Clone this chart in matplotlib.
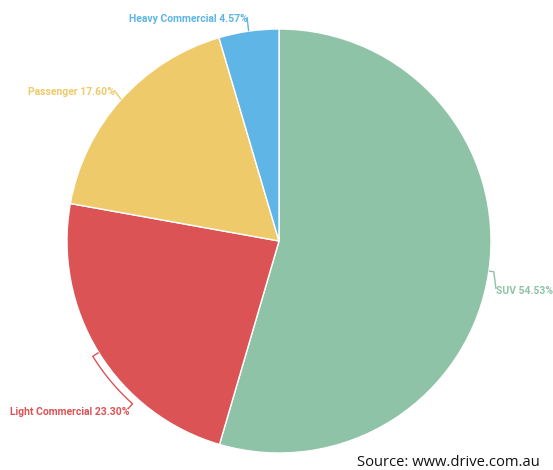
import numpy as np
import matplotlib.pyplot as plt

categories = ["SUV", "Light Commercial", "Passenger", "Heavy Commercial"]
shares = [54.53, 23.30, 17.60, 4.57]
colors = ["#8fc3a7", "#dc5356", "#efca6a", "#5fb5e5"]

fig = plt.figure(figsize=(5.53, 4.70), dpi=100)
ax = fig.add_axes([0, 0, 1, 1])

cx, cy, R = 279, 229, 212
wedges, _ = ax.pie(shares, colors=colors, startangle=90, counterclock=False,
                   center=(cx, cy), radius=R, frame=True,
                   wedgeprops=dict(edgecolor="white", linewidth=1))
ax.set_xlim(0, 553)
ax.set_ylim(0, 470)
ax.axis("off")

# label text anchor (x, y, ha) in pixel-like coords
label_pos = {
    "SUV": (496, 179, "left"),
    "Light Commercial": (129, 58, "right"),
    "Passenger": (115, 378, "right"),
    "Heavy Commercial": (248, 451, "right"),
}

def pt(ang, r):
    a = np.deg2rad(ang)
    return cx + r * np.cos(a), cy + r * np.sin(a)

for w, cat, val, col in zip(wedges, categories, shares, colors):
    mid = ((w.theta1 + w.theta2) / 2) % 360
    tx, ty, ha = label_pos[cat]
    x0, y0 = pt(mid, R)
    if cat == "Light Commercial":
        angs = np.linspace(mid, 228, 30)
        xs = [x0] + [pt(a, 219)[0] for a in angs] + [tx - 1]
        ys = [y0] + [pt(a, 219)[1] for a in angs] + [ty + 3]
    elif cat == "SUV":
        x1, y1 = pt(mid, R + 5)
        xs = [x0, x1, tx]
        ys = [y0, y1, ty + 2]
    else:
        xs = [x0, tx - 1]
        ys = [y0, ty + 2]
    ax.plot(xs, ys, color=col, lw=1, solid_capstyle="butt")
    ax.text(tx, ty, f"{cat} {val:.2f}%", color=col, ha=ha, va="center",
            fontsize=7.5, fontfamily="Roboto", fontweight="bold")

fig.text(540 / 553, 1 - 462 / 470, "Source: www.drive.com.au", ha="right",
         va="center", fontsize=10.6, fontfamily="Open Sans", color="#111111")

fig.savefig("out.png", dpi=100)
